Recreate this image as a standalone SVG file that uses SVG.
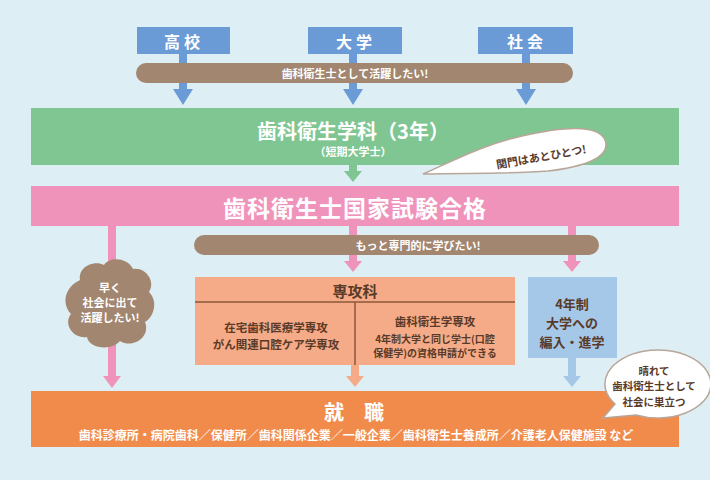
<svg xmlns="http://www.w3.org/2000/svg" width="710" height="480" viewBox="0 0 710 480">
<defs>
<style>
.t{font-family:"Noto Sans CJK JP","Noto Sans",sans-serif;font-weight:bold;text-anchor:middle;dominant-baseline:central}
.w{fill:#ffffff}
.d{fill:#5a3a28}
.stem{stroke-width:8;fill:none}
</style>
</defs>
<rect width="710" height="480" fill="#ddeff4"/>
<g id="connectors">
<path class="stem" stroke="#6a9bd6" d="M183,53V92M353,53V92M526,53V92"/>
<polygon fill="#6a9bd6" points="173,89 193,89 183,105"/>
<polygon fill="#6a9bd6" points="343,89 363,89 353,105"/>
<polygon fill="#6a9bd6" points="516,89 536,89 526,105"/>
<path class="stem" stroke="#7fc692" d="M353,164V174"/>
<polygon fill="#7fc692" points="344,171 362,171 353,182"/>
<path class="stem" stroke="#f093bb" d="M112,225V378M353,225V264M572,225V264"/>
<polygon fill="#f093bb" points="103,376 121,376 112,388"/>
<polygon fill="#f093bb" points="344,261 362,261 353,272"/>
<polygon fill="#f093bb" points="563,261 581,261 572,272"/>
<path class="stem" stroke="#f5ab87" d="M355,364V379"/>
<polygon fill="#f5ab87" points="346,376 364,376 355,387"/>
<path class="stem" stroke="#a6c8e8" d="M572,357V379"/>
<polygon fill="#a6c8e8" points="563,376 581,376 572,387"/>
</g>
<g id="n-koukou">
<rect x="137" y="27" width="93" height="27" fill="#6a9bd6"/>
<text class="t w" x="184" y="41" font-size="16" letter-spacing="4">高校</text>
</g>
<g id="n-daigaku">
<rect x="308" y="27" width="94" height="27" fill="#6a9bd6"/>
<text class="t w" x="356" y="41" font-size="16" letter-spacing="4">大学</text>
</g>
<g id="n-shakai">
<rect x="478" y="27" width="95" height="27" fill="#6a9bd6"/>
<text class="t w" x="527" y="41" font-size="16" letter-spacing="4">社会</text>
</g>
<g id="n-pill1">
<rect x="136" y="63" width="437" height="20" rx="10" fill="#a28670"/>
<text class="t w" x="355" y="73" font-size="11">歯科衛生士として活躍したい!</text>
</g>
<g id="n-gakka">
<rect x="31" y="108" width="648" height="57" fill="#7fc692"/>
<text class="t w" x="353" y="130" font-size="20" font-weight="normal">歯科衛生学科（3年）</text>
<text class="t w" x="353" y="151" font-size="11">（短期大学士）</text>
</g>
<g id="n-bubble1">
<path d="M423,174 C455,160 482,145 522,136 C562,127 598,124 605,140 C612,158 582,167 548,171 C510,174 470,173 423,174 Z" fill="#ffffff" stroke="#b8a698" stroke-width="1.5"/>
<text class="t d" x="541" y="156" font-size="11" transform="rotate(-10 541 156)">関門はあとひとつ!</text>
</g>
<g id="n-kokushi">
<rect x="31" y="186" width="648" height="40" fill="#f093bb"/>
<text class="t w" x="355" y="207" font-size="23" font-weight="normal" letter-spacing="1">歯科衛生士国家試験合格</text>
</g>
<g id="n-pill2">
<rect x="194" y="235" width="405" height="20" rx="10" fill="#a28670"/>
<text class="t w" x="418" y="245" font-size="11">もっと専門的に学びたい!</text>
</g>
<g id="n-cloud">
<path d="M80,280 C78,266 95,260 104,265 C110,256 128,258 133,269 C146,267 156,282 149,292 C159,302 153,318 145,322 C151,337 133,349 120,341 C112,351 89,349 87,337 C73,339 63,324 71,314 C61,303 65,287 80,280 Z" fill="#a28670"/>
<text class="t w" x="110" y="287" font-size="11">早く</text>
<text class="t w" x="110" y="302" font-size="11">社会に出て</text>
<text class="t w" x="110" y="317" font-size="11">活躍したい!</text>
</g>
<g id="n-senkouka">
<rect x="195" y="277" width="320" height="88" fill="#f5ab87"/>
<path d="M195,302H515M355,302V365" stroke="#8a5a3c" stroke-width="1.5" fill="none"/>
<text class="t d" x="355" y="290" font-size="15">専攻科</text>
<text class="t d" x="276" y="327" font-size="11.5">在宅歯科医療学専攻</text>
<text class="t d" x="276" y="344" font-size="11.5">がん関連口腔ケア学専攻</text>
<text class="t d" x="435" y="321" font-size="11.5">歯科衛生学専攻</text>
<text class="t d" x="435" y="338" font-size="10">4年制大学と同じ学士(口腔</text>
<text class="t d" x="435" y="352" font-size="10">保健学)の資格申請ができる</text>
</g>
<g id="n-hennyu">
<rect x="528" y="277" width="89" height="81" fill="#a6c8e8"/>
<text class="t d" x="572" y="303" font-size="13">4年制</text>
<text class="t d" x="572" y="322" font-size="13">大学への</text>
<text class="t d" x="572" y="341" font-size="13">編入・進学</text>
</g>
<g id="n-shushoku">
<rect x="31" y="391" width="648" height="56" fill="#f08b4c"/>
<text class="t w" x="354" y="411" font-size="20" font-weight="normal">就　職</text>
<text class="t w" x="356" y="434" font-size="12">歯科診療所・病院歯科／保健所／歯科関係企業／一般企業／歯科衛生士養成所／介護老人保健施設 など</text>
</g>
<g id="n-bubble2">
<path d="M615,404 L603,418 L636,415 A53,34 0 1 0 615,404 Z" fill="#ffffff" stroke="#b8a698" stroke-width="1.5"/>
<text class="t d" x="654" y="370" font-size="10.5">晴れて</text>
<text class="t d" x="654" y="385.5" font-size="10.5">歯科衛生士として</text>
<text class="t d" x="654" y="401" font-size="10.5">社会に巣立つ</text>
</g>
</svg>
